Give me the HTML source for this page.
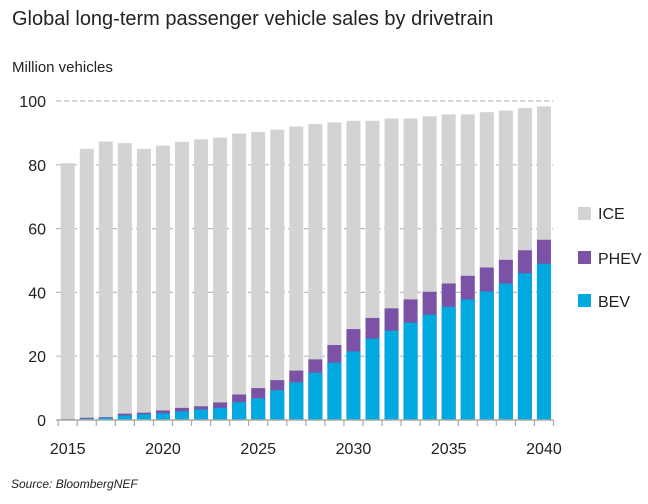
<!DOCTYPE html>
<html><head><style>
body{margin:0;background:#fff;font-family:"Liberation Sans",sans-serif;}
</style></head><body>
<svg id="s" width="648" height="499" xmlns="http://www.w3.org/2000/svg" font-family="Liberation Sans, sans-serif">
<text x="12" y="25" font-size="20" fill="#222">Global long-term passenger vehicle sales by drivetrain</text>
<text x="12" y="72" font-size="15" fill="#222">Million vehicles</text>
<text x="11" y="488" font-size="12" font-style="italic" fill="#222">Source: BloombergNEF</text>
<g id="g"></g>
<rect x="578" y="207" width="13" height="13" fill="#d3d3d3"/><text x="598" y="219" font-size="16" fill="#222">ICE</text>
<rect x="578" y="251" width="13" height="13" fill="#7b52a6"/><text x="598" y="264" font-size="16" fill="#222">PHEV</text>
<rect x="578" y="294" width="13" height="13" fill="#00a9e0"/><text x="598" y="307" font-size="16" fill="#222">BEV</text>
</svg>
<script>
var T=[80.5,85,87.3,86.8,85,86,87.2,88,88.5,89.8,90.3,91,92,92.8,93.3,93.8,93.8,94.5,94.5,95.2,95.8,95.8,96.5,97,97.8,98.3];
var E=[0.3,0.7,0.9,2,2.3,3,3.8,4.3,5.5,8,10,12.5,15.5,19,23.5,28.5,32,35,37.8,40.2,42.8,45.2,47.8,50.2,53.2,56.5];
var B=[0.2,0.4,0.7,1.4,1.8,2.1,2.7,3.3,3.8,5.6,6.8,9.3,11.8,14.8,18,21.5,25.5,28,30.5,33,35.5,37.8,40.3,42.8,46,49];
var y0=420,k=3.19,h='';
for(var v=0;v<=100;v+=20){var y=y0-v*k;
 if(v>0)h+='<line x1="56" x2="553" y1="'+y+'" y2="'+y+'" stroke="#bbb" stroke-dasharray="5,3" stroke-width="1.2"/>';
 h+='<text x="46" y="'+(y+6)+'" font-size="16" text-anchor="end" fill="#222">'+v+'</text>';}
for(var i=0;i<26;i++){var c=67.7+i*19.05,x=c-7;
 h+='<rect x="'+x+'" y="'+(y0-T[i]*k)+'" width="14" height="'+(T[i]*k)+'" fill="#d3d3d3"/>';
 h+='<rect x="'+x+'" y="'+(y0-E[i]*k)+'" width="14" height="'+(E[i]*k)+'" fill="#7b52a6"/>';
 h+='<rect x="'+x+'" y="'+(y0-B[i]*k)+'" width="14" height="'+(B[i]*k)+'" fill="#00a9e0"/>';}
h+='<line x1="56" x2="553" y1="420" y2="420" stroke="#aaa" stroke-width="1.5"/>';
for(var i=0;i<=26;i++){var x=58.2+i*19.05;h+='<line x1="'+x+'" x2="'+x+'" y1="420" y2="426" stroke="#aaa" stroke-width="1.2"/>';}
for(var j=0;j<6;j++){h+='<text x="'+(67.7+j*5*19.05)+'" y="454" font-size="16" text-anchor="middle" fill="#222">'+(2015+j*5)+'</text>';}
document.getElementById('g').innerHTML=h;
</script>
</body></html>
